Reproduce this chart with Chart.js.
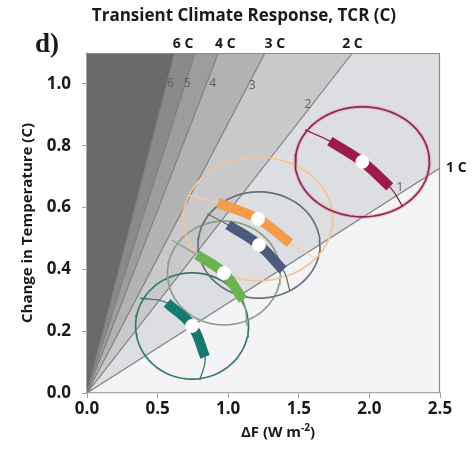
<!DOCTYPE html>
<html><head><meta charset="utf-8">
<script src="https://cdn.jsdelivr.net/npm/chart.js@4.4.1/dist/chart.umd.min.js"></script>
<style>html,body{margin:0;padding:0;background:#fff;}#wrap{width:475px;height:449px;}</style>
</head><body><div id="wrap"><canvas id="c" width="475" height="449"></canvas></div>
<script>
// ---- TCR reference lines (from origin to their end point) ----
const tcrNames = ['1 C','2 C','3 C','4 C','5 C','6 C'];
const tcrEndX = [2.5, 1.88, 1.26, 0.93, 0.765, 0.62];
const tcrEndY = [0.728, 1.1, 1.1, 1.1, 1.1, 1.1];
const wedgeColors = ['#dddee2','#c9c9cb','#b2b2b2','#9d9d9d','#8a8a8a','#6a6a6a'];

// labels above the plot
const topLabels = ['6 C','4 C','3 C','2 C'];
const topLabelX = [0.68, 0.98, 1.33, 1.88];
// small in-plot contour labels
const contourText = ['6','5','4','3','2','1'];
const contourX = [0.59, 0.71, 0.89, 1.17, 1.565, 2.217];
const contourY = [1.0, 1.0, 1.0, 0.995, 0.932, 0.663];

// axis ticks
const xTicks = [0, 0.5, 1.0, 1.5, 2.0, 2.5];
const yTicks = [0, 0.2, 0.4, 0.6, 0.8, 1.0];

// ---- estimate groups ----
const groupNames = ['teal','green','slate','orange','red'];
const centerX = [0.744, 0.970, 1.218, 1.211, 1.950];
const centerY = [0.217, 0.388, 0.479, 0.563, 0.748];
const radiusX = [0.40, 0.40, 0.432, 0.53, 0.475];
const radiusY = [0.172, 0.168, 0.172, 0.20, 0.178];
// spine curves (thin), middle three points are the thick band
const spineX = [
  [0.375, 0.567, 0.744, 0.836, 0.80],
  [0.60, 0.779, 0.970, 1.105, 1.133],
  [0.85, 0.999, 1.218, 1.388, 1.437],
  [0.72, 0.928, 1.211, 1.438, 1.60],
  [1.544, 1.72, 1.95, 2.145, 2.238]
];
const spineY = [
  [0.307, 0.291, 0.217, 0.117, 0.042],
  [0.495, 0.447, 0.388, 0.301, 0.217],
  [0.58, 0.544, 0.479, 0.398, 0.33],
  [0.64, 0.615, 0.563, 0.485, 0.44],
  [0.851, 0.815, 0.748, 0.667, 0.602]
];
const bandColors = ['#177a72','#6db34f','#4c5a7c','#f59c4c','#9e1a48'];
const ringColors = ['#3b786c','#8aa08a','#676f76','#f3c596','#8a2a4c'];
const spineColors = ['#3b786c','#8aa08a','#676f76','#f5cba5','#8a2a4c'];

// ---- build datasets ----
const datasets = [];
tcrNames.forEach((n, i) => {
  datasets.push({
    label: n,
    data: [{x: 0, y: 0}, {x: tcrEndX[i], y: tcrEndY[i]}],
    showLine: true, borderColor: '#7e7e7e', borderWidth: 1.1,
    pointRadius: 0, fill: 'end', backgroundColor: wedgeColors[i],
    order: 100 - i
  });
});
function ellipsePts(cx, cy, rx, ry) {
  const p = [];
  for (let k = 0; k <= 90; k++) {
    const t = k / 90 * 2 * Math.PI;
    p.push({x: cx + rx * Math.cos(t), y: cy + ry * Math.sin(t)});
  }
  return p;
}
groupNames.forEach((g, i) => {
  if (g === 'red') {
    datasets.push({label: g + ' halo', data: ellipsePts(centerX[i], centerY[i], radiusX[i], radiusY[i]),
      showLine: true, borderColor: 'rgba(235,140,170,0.45)', borderWidth: 4, pointRadius: 0, fill: false, order: 61});
  }
  datasets.push({label: g + ' range', data: ellipsePts(centerX[i], centerY[i], radiusX[i], radiusY[i]),
    showLine: true, borderColor: ringColors[i], borderWidth: 1.7, pointRadius: 0, fill: false, order: 60 - i});
  const sp = spineX[i].map((x, k) => ({x, y: spineY[i][k]}));
  datasets.push({label: g + ' spine', data: sp, showLine: true, borderColor: spineColors[i], borderWidth: 1.3,
    pointRadius: 0, fill: false, tension: 0.4, order: 40 - i});
  datasets.push({label: g + ' band', data: sp.slice(1, 4), showLine: true, borderColor: bandColors[i], borderWidth: 10,
    pointRadius: 0, fill: false, tension: 0.4, order: 30 - i});
  datasets.push({label: g + ' best', data: [{x: centerX[i], y: centerY[i]}], showLine: false,
    pointRadius: 6.5, pointBackgroundColor: '#ffffff', pointBorderColor: 'rgba(255,255,255,0.9)', pointBorderWidth: 1,
    order: 10 - i});
});

const FONT = '"Open Sans", "DejaVu Sans", sans-serif';
const decor = {
  id: 'decor',
  beforeDraw(chart) {
    const {ctx, chartArea: a} = chart;
    ctx.save();
    ctx.fillStyle = '#f4f4f6';
    ctx.fillRect(a.left, a.top, a.right - a.left, a.bottom - a.top);
    ctx.restore();
  },
  afterDatasetsDraw(chart) {
    const {ctx, chartArea: a, scales} = chart;
    ctx.save();
    ctx.strokeStyle = '#8c8c8c'; ctx.lineWidth = 1.2;
    ctx.beginPath();
    ctx.moveTo(a.left, a.top + 0.5); ctx.lineTo(a.right, a.top + 0.5);
    ctx.moveTo(a.right - 0.5, a.top); ctx.lineTo(a.right - 0.5, a.bottom);
    ctx.stroke();
    ctx.fillStyle = '#5e5e5e';
    ctx.font = '12px ' + FONT;
    ctx.textAlign = 'center'; ctx.textBaseline = 'middle';
    contourText.forEach((t, i) => {
      ctx.fillText(t, scales.x.getPixelForValue(contourX[i]), scales.y.getPixelForValue(contourY[i]));
    });
    ctx.restore();
  },
  afterDraw(chart) {
    const {ctx, scales} = chart;
    ctx.save();
    ctx.fillStyle = '#1a1a1a';
    ctx.textBaseline = 'middle';
    ctx.textAlign = 'center';
    ctx.font = 'bold 17px ' + FONT;
    ctx.fillText('Transient Climate Response, TCR (C)', 244, 16);
    ctx.font = 'bold 14px ' + FONT;
    topLabels.forEach((t, i) => ctx.fillText(t, scales.x.getPixelForValue(topLabelX[i]), 44));
    ctx.textAlign = 'left';
    ctx.fillText('1 C', 446, scales.y.getPixelForValue(0.728));
    ctx.font = 'bold 27px "Liberation Serif", serif';
    ctx.textAlign = 'left';
    ctx.fillText('d)', 35, 45);
    // x axis title
    ctx.font = 'bold 15px ' + FONT;
    const p1 = 'ΔF (W m', p2 = '-2', p3 = ')';
    const w1 = ctx.measureText(p1).width;
    ctx.font = 'bold 10px ' + FONT;
    const w2 = ctx.measureText(p2).width;
    ctx.font = 'bold 15px ' + FONT;
    const w3 = ctx.measureText(p3).width;
    let x0 = 278 - (w1 + w2 + w3) / 2;
    const yT = 433;
    ctx.fillText(p1, x0, yT);
    ctx.font = 'bold 10px ' + FONT;
    ctx.fillText(p2, x0 + w1, yT - 5);
    ctx.font = 'bold 15px ' + FONT;
    ctx.fillText(p3, x0 + w1 + w2, yT);
    ctx.restore();
  }
};

new Chart(document.getElementById('c'), {
  type: 'scatter',
  data: {datasets},
  plugins: [decor],
  options: {
    responsive: false, animation: false, devicePixelRatio: 1,
    layout: {padding: {top: 53, right: 35, left: 0, bottom: 0}},
    plugins: {legend: {display: false}, tooltip: {enabled: false}, filler: {propagate: false}},
    scales: {
      x: {
        type: 'linear', min: 0, max: 2.5,
        afterFit(s) { s.height = 56; },
        afterBuildTicks(s) { s.ticks = xTicks.map(v => ({value: v})); },
        ticks: {padding: 1, color: '#1a1a1a', font: {family: FONT, size: 17, weight: 'bold'},
          callback: v => Number(v).toFixed(1), maxRotation: 0},
        grid: {drawOnChartArea: false, drawTicks: true, tickLength: 5, color: '#a0a0a0'},
        border: {display: true, color: '#a8a8a8', width: 1.2}
      },
      y: {
        type: 'linear', min: 0, max: 1.1,
        afterFit(s) { s.width = 87; },
        afterBuildTicks(s) { s.ticks = yTicks.map(v => ({value: v})); },
        ticks: {padding: 11, color: '#1a1a1a', font: {family: FONT, size: 17, weight: 'bold'},
          callback: v => Number(v).toFixed(1)},
        grid: {drawOnChartArea: false, drawTicks: true, tickLength: 5, color: '#a0a0a0'},
        border: {display: true, color: '#a8a8a8', width: 1.2},
        title: {display: true, text: 'Change in Temperature (C)', color: '#1a1a1a',
          font: {family: FONT, size: 15, weight: 'bold'}, padding: {top: 19, bottom: 0}}
      }
    }
  }
});
</script></body></html>
